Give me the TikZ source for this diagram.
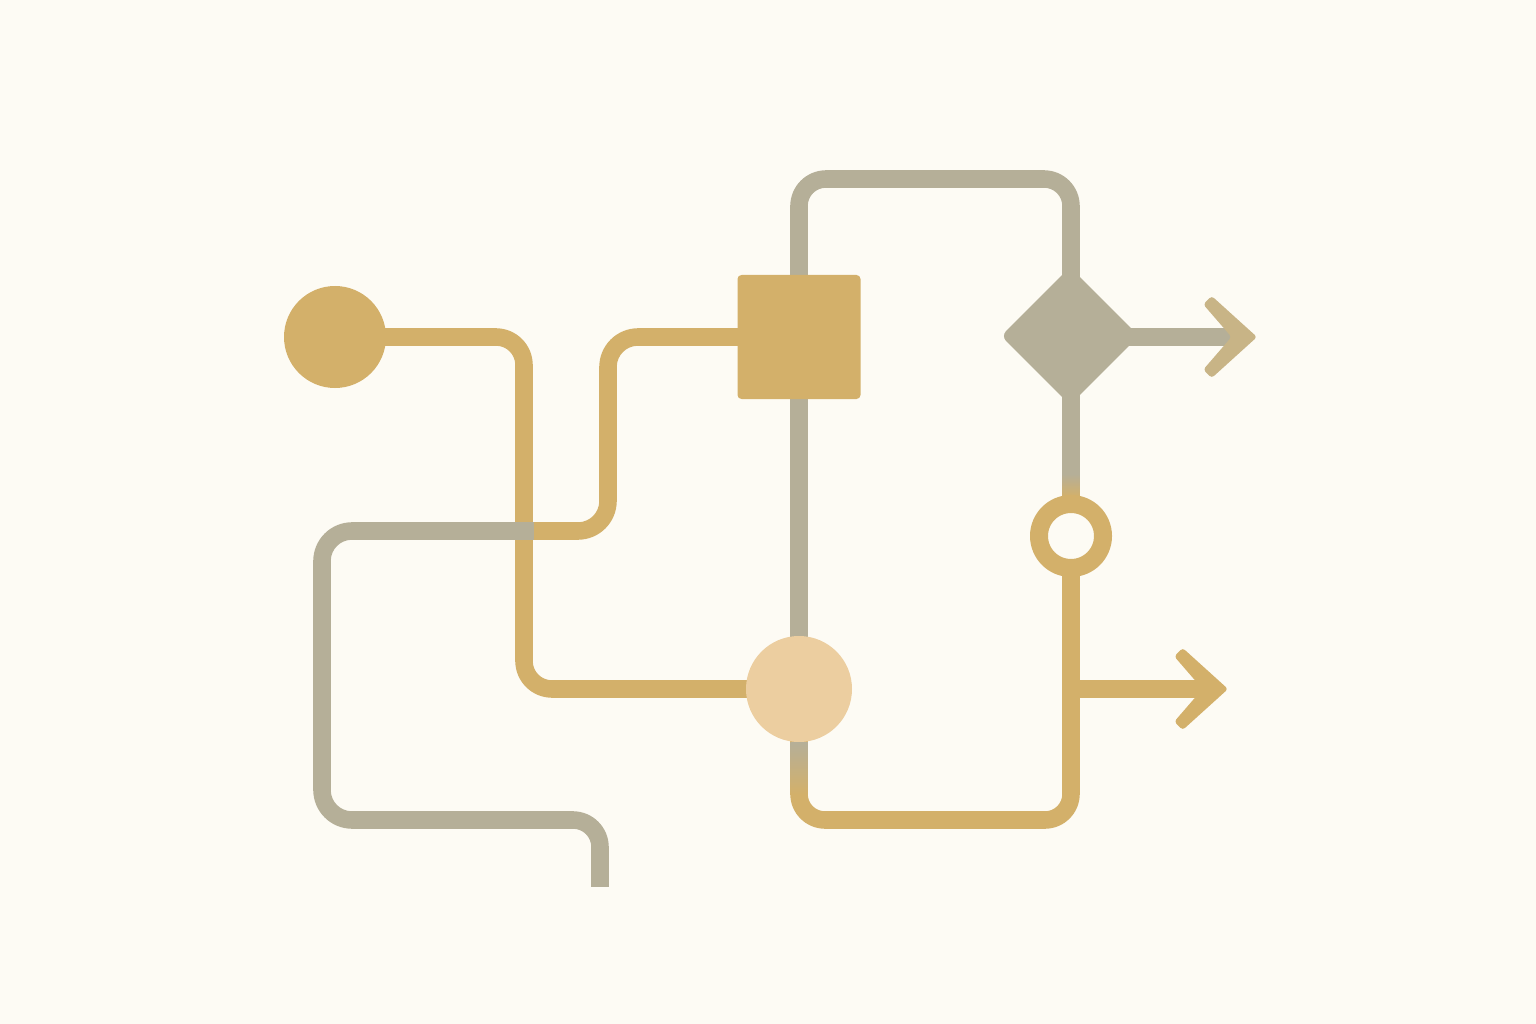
\documentclass[tikz,border=0pt]{standalone}
\usetikzlibrary{shapes.geometric,calc}
\definecolor{bgc}{HTML}{FDFBF4}
\definecolor{goldc}{HTML}{D3B06A}
\definecolor{grayc}{HTML}{B5AF98}
\definecolor{lightc}{HTML}{ECCEA0}
\definecolor{headc}{HTML}{C8B486}
\pgfdeclarelayer{canvas}
\pgfdeclarelayer{back}
\pgfsetlayers{canvas,back,main}
% wire pieces drawn as filled shapes (half width 8.75)
\newcommand\wireh[4]{\fill[#1] (#2-0.6,#4-8.75) rectangle (#3+0.6,#4+8.75);}
\newcommand\wirev[4]{\fill[#1] (#4-8.75,#2-0.6) rectangle (#4+8.75,#3+0.6);}
\newcommand\wirec[7]{\fill[#1] ($(#2,#3)+(#4:#6)$) arc[start angle=#4, end angle=#5, radius=#6] -- ($(#2,#3)+(#5:#7)$) arc[start angle=#5, end angle=#4, radius=#7] -- cycle;}
\tikzset{
  startdot/.style={circle, fill=goldc, minimum size=102pt, inner sep=0pt},
  sqbox/.style={rectangle, fill=goldc, minimum width=123pt, minimum height=124pt, rounded corners=4pt, inner sep=0pt},
  diabox/.style={diamond, aspect=1, fill=grayc, minimum width=138pt, minimum height=138pt, rounded corners=7pt, inner sep=0pt},
  ldot/.style={circle, fill=lightc, minimum size=106pt, inner sep=0pt},
  ringnode/.style={circle, draw=goldc, line width=18pt, fill=bgc, minimum size=64pt, inner sep=0pt},
  chevhead/.style={rounded corners=3pt}
}
\begin{document}
\begin{tikzpicture}[x=1pt,y=-1pt]
\begin{pgfonlayer}{canvas}
\fill[bgc] (0,0) rectangle (1536,1024);
\end{pgfonlayer}
\useasboundingbox (0,0) rectangle (1536,1024);

% nodes
\node[startdot] (start) at (335,337) {};
\node[sqbox] (sq) at (799,337) {};
\node[diabox] (dia) at (1070,336) {};
\node[ldot] (lc) at (799,689) {};
\node[ringnode] (ring) at (1071,536) {};

% arrow head points
\coordinate (t1) at (1257,337);
\coordinate (t2) at (1228,689);

\begin{pgfonlayer}{back}
% gold: start -> light circle
\wireh{goldc}{335}{496}{337}
\wirec{goldc}{496}{365}{270}{360}{36.75}{19.25}
\wirev{goldc}{365}{661}{524}
\wirec{goldc}{552}{661}{90}{180}{36.75}{19.25}
\wireh{goldc}{552}{799}{689}
% gold: square -> junction
\wireh{goldc}{638}{799}{337}
\wirec{goldc}{638}{367}{180}{270}{38.75}{21.25}
\wirev{goldc}{367}{501}{608}
\wirec{goldc}{578}{501}{0}{90}{38.75}{21.25}
\wireh{goldc}{533}{578}{531}
% gray: junction -> open end
\wireh{grayc}{352}{533}{531}
\wirec{grayc}{352}{561}{180}{270}{38.75}{21.25}
\wirev{grayc}{561}{790}{322}
\wirec{grayc}{352}{790}{90}{180}{38.75}{21.25}
\wireh{grayc}{352}{573}{820}
\wirec{grayc}{573}{847}{270}{360}{35.75}{18.25}
\wirev{grayc}{847}{886}{600}
% gray loop: square -> diamond
\wirev{grayc}{206}{337}{799}
\wirec{grayc}{826}{206}{180}{270}{35.75}{18.25}
\wireh{grayc}{826}{1044}{179}
\wirec{grayc}{1044}{206}{270}{360}{35.75}{18.25}
\wirev{grayc}{206}{336}{1071}
% gray: square -> light circle, diamond -> ring
\wirev{grayc}{337}{689}{799}
\wirev{grayc}{336}{536}{1071}
% gold loop: light circle -> ring
\wirev{goldc}{689}{794}{799}
\wirec{goldc}{825}{794}{90}{180}{34.75}{17.25}
\wireh{goldc}{825}{1045}{820}
\wirec{goldc}{1045}{794}{0}{90}{34.75}{17.25}
\wirev{goldc}{536}{794}{1071}
% arrow shafts
\wireh{goldc}{1071}{1205}{689}
\wireh{grayc}{1070}{1234}{337}
% colour blends
\shade[top color=grayc, bottom color=goldc] (790.25,742) rectangle (807.75,794);
\shade[top color=grayc, bottom color=goldc] (1062.25,474) rectangle (1079.75,497);
\end{pgfonlayer}

% arrow heads
\fill[headc, chevhead] (t1) -- (1211.7,296.0) -- (1203.3,304.4) -- (1231.5,337) -- (1203.3,369.6) -- (1211.7,378.0) -- cycle;
\fill[goldc, chevhead] (t2) -- (1182.7,648.0) -- (1174.3,656.4) -- (1202.5,689) -- (1174.3,721.6) -- (1182.7,730.0) -- cycle;
\end{tikzpicture}
\end{document}
